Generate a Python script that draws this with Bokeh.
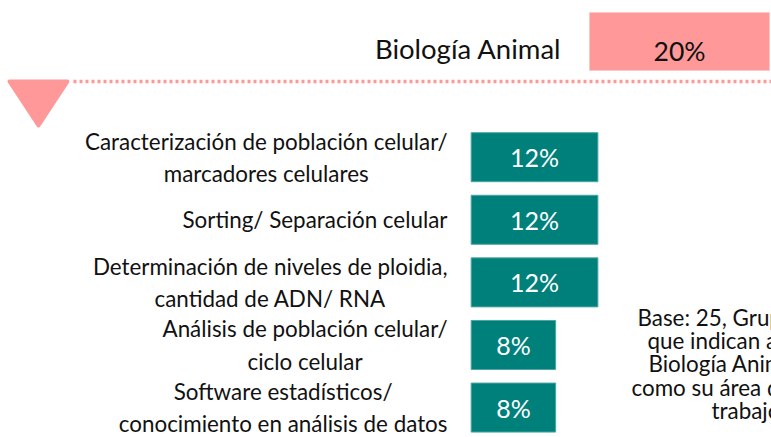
from bokeh.plotting import figure
from bokeh.models import Range1d, ColumnDataSource
from bokeh.core.properties import value
from bokeh.embed import file_html
from bokeh.resources import INLINE

# ---- data ----
categories = [
    "Caracterización de población celular/\nmarcadores celulares",
    "Sorting/ Separación celular",
    "Determinación de niveles de ploidia,\ncantidad de ADN/ RNA",
    "Análisis de población celular/\nciclo celular",
    "Software estadísticos/\nconocimiento en análisis de datos",
]
values = [12, 12, 12, 8, 8]
header_label = "Biología Animal"
header_value = 20
base_lines = ["Base: 25, Grupos", "que indican a", "Biología Animal", "como su área de", "trabajo"]

PINK = "#FF9999"
TEAL = "#00807B"
FONT = "Lato"
W, H = 771, 437

p = figure(width=W, height=H, output_backend="svg", toolbar_location=None,
           x_range=Range1d(-44.57, 28.44), y_range=Range1d(4.478, -2.503),
           x_axis_location=None, y_axis_location=None, min_border=0,
           outline_line_color=None, background_fill_color="white")
p.grid.visible = False
p.extra_x_ranges = {"px": Range1d(0, W), "hdr": Range1d(-65.44, 20.22)}
p.extra_y_ranges = {"px": Range1d(H, 0)}

# bars
idx = list(range(len(values)))
src = ColumnDataSource(dict(y=idx, v=values, mid=[v / 2 for v in values],
                            lab=[f"{v}%" for v in values], cat=categories))
p.hbar(y="y", left=0, right="v", height=0.783, source=src,
       fill_color=TEAL, line_color="#4DA6A1", line_width=1)
p.text(x="mid", y="y", text="lab", source=src, text_color="white",
       text_font=value(FONT), text_font_size="25px",
       text_align="center", text_baseline="middle")
p.text(x=-2.24, y="y", text="cat", source=src, text_color="#111111",
       text_font=value(FONT), text_font_size="22.4px",
       text_align="center", anchor="center_right", text_baseline="middle",
       text_line_height=1.19)

# header
p.hbar(y=[41], left=[0], right=[header_value], height=58, x_range_name="hdr",
       y_range_name="px", fill_color=PINK, line_color="#FFC8C8", line_width=1)
p.text(x=[header_value / 2], y=[50], text=[f"{header_value}%"], x_range_name="hdr",
       y_range_name="px", text_color="#111111", text_font=value(FONT),
       text_font_size="26.5px", text_align="center", text_baseline="alphabetic")
p.text(x=[561], y=[48], text=[header_label], x_range_name="px", y_range_name="px",
       text_color="#111111", text_font=value(FONT), text_font_size="27.5px",
       text_align="right", text_baseline="alphabetic")

# dotted separator and triangle
p.line(x=[73, W], y=[81, 81], x_range_name="px", y_range_name="px",
       line_color=PINK, line_width=3.3, line_dash="3 3")
p.patch(x=[9, 67, 38], y=[81, 81, 125], x_range_name="px", y_range_name="px",
        fill_color=PINK, line_color=PINK, line_width=4, line_join="round")

# base note
base_x = [637, 647, 648, 631, 711]
base_y = [317, 340, 363, 387, 410]
p.text(x=base_x, y=base_y, text=base_lines, x_range_name="px", y_range_name="px",
       text_color="#111111", text_font=value(FONT), text_font_size="22.4px",
       text_align="left", text_baseline="alphabetic")

open("out.html", "w").write(file_html(p, INLINE))
